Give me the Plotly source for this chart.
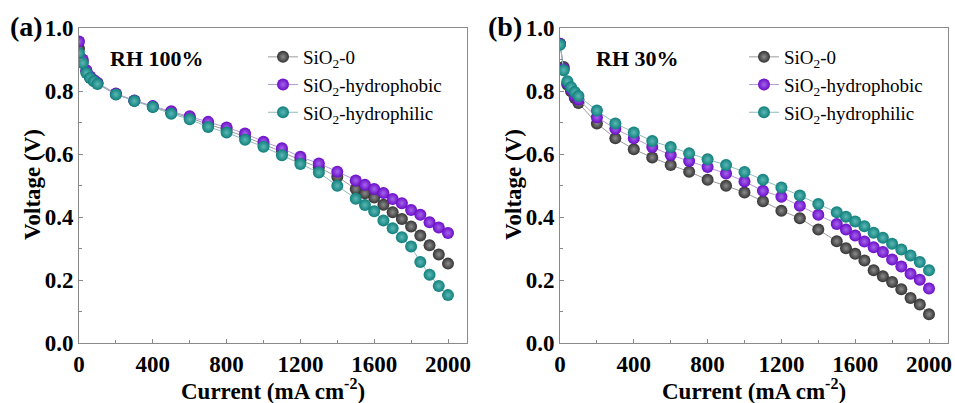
import plotly.graph_objects as go

current = [0, 20, 40, 60, 80, 100, 200, 300, 400, 500, 600, 700, 800, 900, 1000,
           1100, 1200, 1300, 1400, 1500, 1550, 1600, 1650, 1700, 1750, 1800, 1850,
           1900, 1950, 2000]

# (a) RH 100%
a_sio2_0 = [0.935, 0.894, 0.862, 0.843, 0.833, 0.824, 0.790, 0.769, 0.750, 0.732, 0.715,
            0.694, 0.676, 0.655, 0.631, 0.607, 0.580, 0.557, 0.528, 0.489, 0.475, 0.462,
            0.439, 0.415, 0.394, 0.370, 0.341, 0.310, 0.281, 0.252]
a_phobic = [0.957, 0.900, 0.866, 0.846, 0.835, 0.826, 0.792, 0.770, 0.752, 0.736, 0.720,
            0.702, 0.684, 0.665, 0.639, 0.618, 0.591, 0.570, 0.544, 0.516, 0.502, 0.489,
            0.476, 0.457, 0.444, 0.422, 0.407, 0.383, 0.367, 0.349]
a_philic = [0.920, 0.889, 0.857, 0.841, 0.831, 0.822, 0.789, 0.768, 0.749, 0.728, 0.710,
            0.686, 0.668, 0.645, 0.623, 0.596, 0.568, 0.541, 0.499, 0.458, 0.438, 0.418,
            0.389, 0.364, 0.336, 0.306, 0.257, 0.217, 0.181, 0.152]

# (b) RH 30%
b_sio2_0 = [0.950, 0.876, 0.820, 0.799, 0.778, 0.762, 0.697, 0.650, 0.615, 0.589, 0.565,
            0.544, 0.518, 0.499, 0.478, 0.450, 0.420, 0.396, 0.360, 0.323, 0.301, 0.283,
            0.262, 0.231, 0.212, 0.194, 0.171, 0.143, 0.122, 0.091]
b_phobic = [0.950, 0.870, 0.825, 0.805, 0.784, 0.773, 0.717, 0.680, 0.650, 0.622, 0.597,
            0.578, 0.559, 0.538, 0.513, 0.483, 0.464, 0.436, 0.407, 0.378, 0.360, 0.341,
            0.322, 0.304, 0.289, 0.265, 0.243, 0.220, 0.201, 0.173]
b_philic = [0.947, 0.866, 0.831, 0.812, 0.797, 0.784, 0.738, 0.697, 0.668, 0.641, 0.622,
            0.602, 0.583, 0.565, 0.543, 0.518, 0.494, 0.468, 0.441, 0.415, 0.401, 0.386,
            0.371, 0.350, 0.334, 0.315, 0.297, 0.278, 0.257, 0.231]

names = ["SiO<sub>2</sub>-0", "SiO<sub>2</sub>-hydrophobic", "SiO<sub>2</sub>-hydrophilic"]
colors = ["#333333", "#6a0cc8", "#0f7f7c"]
highlights = ["#8c8c8c", "#a565ea", "#5cb8b4"]
linecols = ["#9a9a9a", "#b49ad6", "#8fbcbc"]

FONT = "Liberation Serif"
fig = go.Figure()

panels = [
    ("x", "y", "legend", [a_sio2_0, a_phobic, a_philic]),
    ("x2", "y2", "legend2", [b_sio2_0, b_phobic, b_philic]),
]
for xa, ya, lg, series in panels:
    for i, vals in enumerate(series):
        fig.add_trace(go.Scatter(
            x=current, y=vals, name=names[i], mode="lines+markers",
            xaxis=xa, yaxis=ya, legend=lg,
            line=dict(color=linecols[i], width=1),
            marker=dict(size=12, color=colors[i],
                        gradient=dict(type="radial", color=highlights[i]),
                        line=dict(width=0)),
        ))

H = 403.0
W = 955.0
y_dom = [1 - 343 / H, 1 - 28 / H]
axis_common = dict(
    showline=True, linecolor="#8a8a8a", linewidth=1, mirror=True, automargin=False,
    ticks="inside", ticklen=4, tickcolor="#8a8a8a", showgrid=False, zeroline=False,
    tickfont=dict(family=FONT, size=23, color="black", weight="bold"),
)
xcommon = dict(axis_common, range=[0, 2103], tickvals=[0, 400, 800, 1200, 1600, 2000],
               minor=dict(ticks="inside", ticklen=3, tickcolor="#8a8a8a", dtick=200, tick0=0))
ycommon = dict(axis_common, range=[0, 1.0], tickvals=[0, 0.2, 0.4, 0.6, 0.8, 1.0],
               tickformat=".1f", ticklabelstandoff=0,
               minor=dict(ticks="inside", ticklen=3, tickcolor="#8a8a8a", dtick=0.1, tick0=0))


def ann(text, x, y, size, bold=True, xanchor="center", angle=0):
    f = dict(family=FONT, size=size, color="black")
    if bold:
        f["weight"] = "bold"
    return dict(text=text, x=x / W, y=1 - y / H, xref="paper", yref="paper",
                xanchor=xanchor, yanchor="middle", showarrow=False, textangle=angle,
                font=f)


legend_style = dict(yanchor="top", xanchor="left", bgcolor="rgba(0,0,0,0)",
                    font=dict(family=FONT, size=19, color="black"),
                    itemwidth=30, tracegroupgap=0)

fig.update_layout(
    width=955, height=403,
    margin=dict(l=0, r=0, t=0, b=0, autoexpand=False),
    paper_bgcolor="white", plot_bgcolor="white",
    xaxis=dict(xcommon, domain=[79 / W, 467 / W], anchor="y"),
    yaxis=dict(ycommon, domain=y_dom, anchor="x"),
    xaxis2=dict(xcommon, domain=[560 / W, 948 / W], anchor="y2"),
    yaxis2=dict(ycommon, domain=y_dom, anchor="x2"),
    legend=dict(legend_style, x=263 / W, y=1 - 38 / H),
    legend2=dict(legend_style, x=744 / W, y=1 - 38 / H),
    showlegend=True,
    annotations=[
        ann("(a)", 8, 27, 28, xanchor="left"),
        ann("(b)", 486, 27, 28, xanchor="left"),
        ann("RH 100%", 108, 58, 22, xanchor="left"),
        ann("RH 30%", 594, 58, 22, xanchor="left"),
        ann("Current (mA cm<sup>-2</sup>)", 273, 389, 23),
        ann("Current (mA cm<sup>-2</sup>)", 754, 389, 23),
        ann("Voltage (V)", 32, 185, 23, angle=-90),
        ann("Voltage (V)", 513, 185, 23, angle=-90),
    ],
)

fig.write_html("out.html")
